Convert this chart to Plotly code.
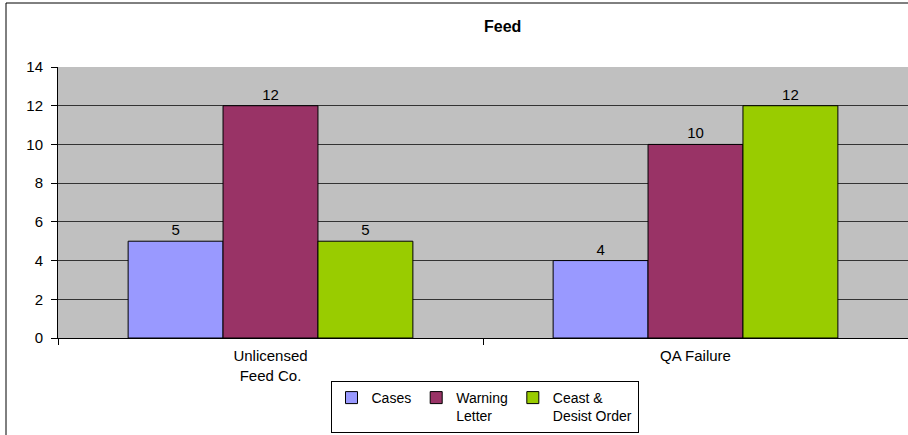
import plotly.graph_objects as go

# Enforcement actions by violation type
categories = ["Unlicensed<br>Feed Co.", "QA Failure"]
cases = [5, 4]
warning_letters = [12, 10]
cease_desist = [5, 12]

series_names = ["Cases", "Warning<br>Letter", "Ceast &<br>Desist Order"]
series_values = [cases, warning_letters, cease_desist]
series_colors = ["#9999FF", "#993366", "#99CC00"]

y_ticks = [0, 2, 4, 6, 8, 10, 12, 14]

FONT = "Arial, 'Liberation Sans', sans-serif"
FS = 15

fig = go.Figure()
for name, vals, col in zip(series_names, series_values, series_colors):
    fig.add_trace(go.Bar(
        x=categories,
        y=vals,
        name=name,
        marker=dict(color=col, line=dict(color="#000000", width=1)),
        text=[str(v) for v in vals],
        textposition="outside",
        textfont=dict(family=FONT, size=FS, color="#000000"),
        cliponaxis=False,
    ))

W, H = 908, 435
L, R, T, B = 58, 0, 67, 97
pw, ph = W - L - R, H - T - B

fig.update_layout(
    width=W, height=H,
    margin=dict(l=L, r=R, t=T, b=B, pad=0, autoexpand=False),
    paper_bgcolor="#FFFFFF",
    plot_bgcolor="#C0C0C0",
    barmode="group",
    bargap=0.33,
    bargroupgap=0,
    font=dict(family=FONT, size=FS, color="#000000"),
    title=dict(
        text="<b>Feed</b>",
        font=dict(family=FONT, size=16, color="#000000"),
        x=475 / W, xref="paper", xanchor="center",
        y=1 - 26 / H, yanchor="middle",
    ),
    showlegend=True,
    legend=dict(
        orientation="h",
        x=(484.5 - L) / pw, xanchor="center",
        yref="container",
        y=1 - 433 / H, yanchor="bottom",
        bordercolor="#000000", borderwidth=1,
        bgcolor="#FFFFFF",
        valign="top",
        font=dict(family=FONT, size=14, color="#000000"),
        itemwidth=30,
        tracegroupgap=0,
    ),
    xaxis=dict(
        automargin=False,
        showline=True, linecolor="#000000", linewidth=1,
        ticks="outside", ticklen=6, tickcolor="#000000",
        tickson="boundaries",
        ticklabelstandoff=4,
        showgrid=False,
        tickfont=dict(family=FONT, size=FS, color="#000000"),
    ),
    yaxis=dict(
        automargin=False,
        range=[0, 14],
        tickvals=y_ticks,
        showline=True, linecolor="#000000", linewidth=1,
        ticks="outside", ticklen=6, tickcolor="#000000",
        ticklabelstandoff=5,
        showgrid=True, gridcolor="#333333", gridwidth=1,
        zeroline=False,
        tickfont=dict(family=FONT, size=FS, color="#000000"),
    ),
    shapes=[dict(
        type="rect", xref="paper", yref="paper",
        x0=(6 - L) / pw, x1=1.2,
        y0=-1.0, y1=1 + (T - 3) / ph,
        line=dict(color="#000000", width=1),
        fillcolor="rgba(0,0,0,0)",
        layer="above",
    )],
)

fig.write_html("out.html")
